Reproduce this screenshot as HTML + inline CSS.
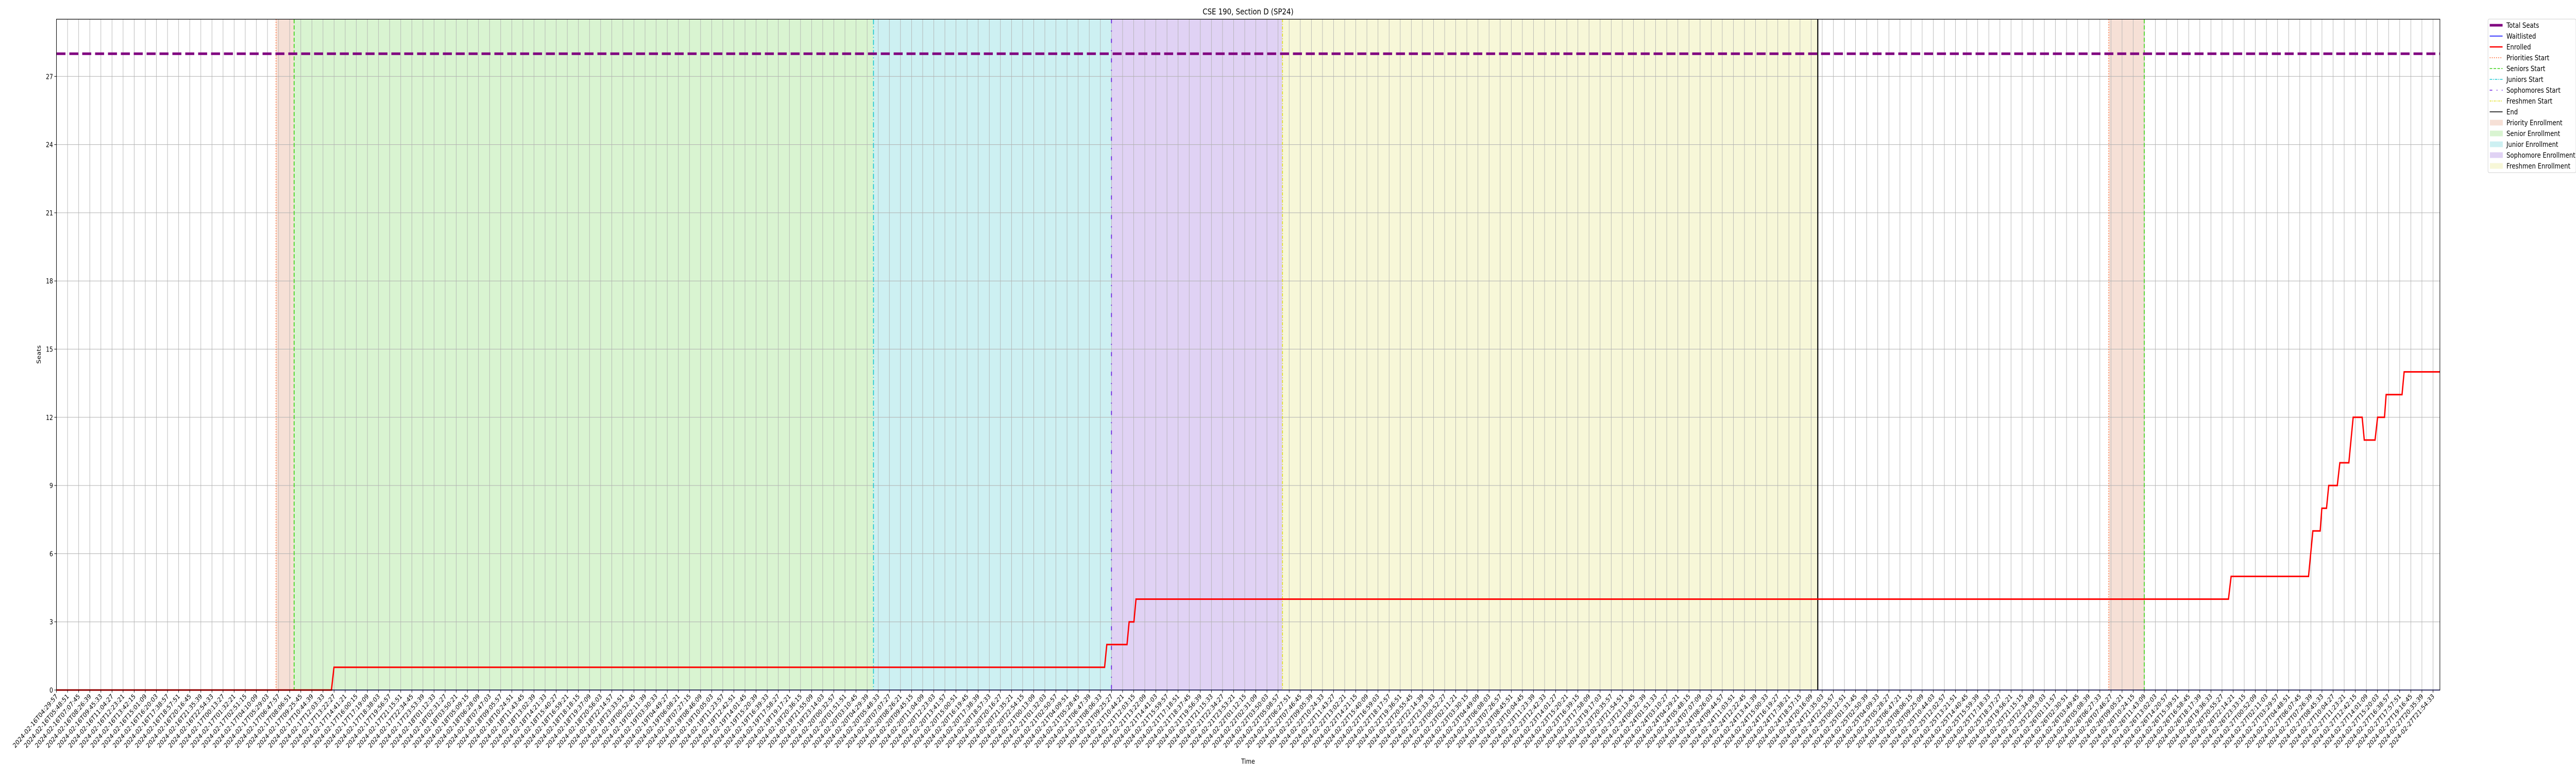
<!DOCTYPE html>
<html><head><meta charset="utf-8">
<style>
html,body{margin:0;padding:0;background:#fff;width:100vw;height:100vh;overflow:hidden;}
svg{display:block;width:100vw;height:100vh;font-family:"DejaVu Sans","Liberation Sans",sans-serif;}
</style></head>
<body>
<svg id="chart" viewBox="0 0 6000 1500" preserveAspectRatio="none" xmlns="http://www.w3.org/2000/svg">
  <text x="2907" y="28" font-size="16" text-anchor="middle">CSE 190, Section D (SP24)</text>
  <text x="2907" y="1482" font-size="13" text-anchor="middle">Time</text>
  <text x="0" y="0" font-size="13" text-anchor="middle" transform="translate(95,688) rotate(-90)">Seats</text>
  <g id="shades"></g>
  <g id="grid"></g>
  <g id="vlines"></g>
  <g id="series"></g>
  <g id="axes"></g>
  <g id="legend"></g>
</svg>
<script>
// ---- data ----
const tickCount = 215;
const tickStart = "2024-02-16T04:29:57";
const tickStepMinutes = 78.9;
const yTicks = [0,3,6,9,12,15,18,21,24,27];
const totalSeats = 28;
const waitlistX = [0, 214.62];
const waitlistY = [0, 0];
const enrolledX = [0,24.76,24.99,94.38,94.58,96.40,96.59,97.02,97.21,195.58,195.82,202.79,203.18,203.84,203.99,204.41,204.61,205.38,205.61,206.42,206.81,207.62,207.81,208.78,209.01,209.63,209.78,211.21,211.40,214.62];
const enrolledY = [0,0,1,1,2,2,3,3,4,4,5,5,7,7,8,8,9,9,10,10,12,12,11,11,12,12,13,13,14,14];
const phaseNames = ["priority","senior","junior","sophomore","freshmen","priority-2"];
const phaseStart = [19.77, 21.40, 73.57, 95.00, 110.40, 184.8];
const phaseEnd   = [21.40, 73.57, 95.00, 110.40, 158.6, 188.0];
const endIndex = 158.6;

// ---- layout ----
const L=131.5, R=5683, T=37.3, B=1339;
const xMin=0, xMax=214.62, yMin=0, yMax=(B-T)/44.1;
const NS="http://www.w3.org/2000/svg";
function X(i){return L+(i-xMin)/(xMax-xMin)*(R-L);}
function Y(v){return B-(v-yMin)/(yMax-yMin)*(B-T);}
function mk(tag,attrs,parent){const e=document.createElementNS(NS,tag);for(const k in attrs)e.setAttribute(k,attrs[k]);parent.appendChild(e);return e;}

const shades=document.getElementById('shades'),grid=document.getElementById('grid'),vl=document.getElementById('vlines'),ser=document.getElementById('series'),ax=document.getElementById('axes'),lg=document.getElementById('legend');

const shadeColors={"priority":"#f6e0d6","senior":"#d9f4d1","junior":"#cdf0f2","sophomore":"#e0d2f4","freshmen":"#f7f7d8","priority-2":"#f6e0d6"};
phaseNames.forEach((p,k)=>{
  const r=mk('rect',{x:X(phaseStart[k]),y:T,width:X(phaseEnd[k])-X(phaseStart[k]),height:B-T,fill:shadeColors[p]},shades);
  
  
});

// grid + ticks
const pad=n=>String(n).padStart(2,'0');
const base=new Date(tickStart+"Z").getTime();
for(let i=0;i<tickCount;i++){
  const x=X(i);
  const g=mk('line',{x1:x,x2:x,y1:T,y2:B,stroke:'#b0b0b0','stroke-width':1},grid);
  
  
  const tk=mk('line',{x1:x,x2:x,y1:B,y2:B+5,stroke:'#000','stroke-width':1},ax);
  
  
  const d=new Date(base+i*tickStepMinutes*60000);
  const lab=d.getUTCFullYear()+"-"+pad(d.getUTCMonth()+1)+"-"+pad(d.getUTCDate())+"T"+pad(d.getUTCHours())+":"+pad(d.getUTCMinutes())+":"+pad(d.getUTCSeconds());
  const t=mk('text',{x:0,y:0,'font-size':13,'text-anchor':'end',transform:`translate(${x+4},${B+13}) rotate(-45)`},ax);
  t.textContent=lab;
  
  
}
yTicks.forEach(v=>{
  const y=Y(v);
  const g=mk('line',{x1:L,x2:R,y1:y,y2:y,stroke:'#b0b0b0','stroke-width':1},grid);
  
  
  const tk=mk('line',{x1:L-5,x2:L,y1:y,y2:y,stroke:'#000','stroke-width':1},ax);
  
  
  const t=mk('text',{x:L-8,y:y+5,'font-size':13,'text-anchor':'end'},ax);
  t.textContent=v;
  
  
});

// phase start lines
const lineStyles={"priority":{c:'#ff5a1f',d:'2,3',w:1.5},"senior":{c:'#3fd21a',d:'8,4',w:2},"junior":{c:'#1ec8d2',d:'10,4,2,4',w:2},"sophomore":{c:'#6a1be0',d:'8,14,2,14',w:2},"freshmen":{c:'#e0e020',d:'6,3,2,3',w:2},"priority-2":{c:'#ff5a1f',d:'2,3',w:1.5}};
phaseNames.forEach((p,k)=>{
  const s=lineStyles[p];
  const x=X(phaseStart[k]);
  const ln=mk('line',{x1:x,x2:x,y1:T,y2:B,stroke:s.c,'stroke-width':s.w,'stroke-dasharray':s.d},vl);
  
  
});
{
  const x=X(phaseEnd[5]);
  const ln=mk('line',{x1:x,x2:x,y1:T,y2:B,stroke:'#3fd21a','stroke-width':2,'stroke-dasharray':'8,4'},vl);
  
  
}
{
  const x=X(endIndex);
  const ln=mk('line',{x1:x,x2:x,y1:T,y2:B,stroke:'#000','stroke-width':2.5},vl);
  
  
}

// series
const ts=mk('line',{x1:L,x2:R,y1:Y(totalSeats),y2:Y(totalSeats),stroke:'#800080','stroke-width':5,'stroke-dasharray':'21,9'},ser);


const wl=mk('polyline',{points:waitlistX.map((x,i)=>X(x)+','+Y(waitlistY[i])).join(' '),fill:'none',stroke:'#0000ff','stroke-width':1.5},ser);


const en=mk('polyline',{points:enrolledX.map((x,i)=>X(x)+','+Y(enrolledY[i])).join(' '),fill:'none',stroke:'#ff0000','stroke-width':3,'stroke-linejoin':'miter'},ser);



// frame
const fr=mk('rect',{x:L,y:T,width:R-L,height:B-T,fill:'none',stroke:'#000','stroke-width':1.2},ax);



// legend
const lx=5795, ly=37;
const box=mk('rect',{x:lx,y:ly,width:205,height:298,rx:3,fill:'#fff',stroke:'#d0d0d0','stroke-width':1},lg);


const entries=[
 ['Total Seats','line','#800080',5,''],
 ['Waitlisted','line','#0000ff',1.5,''],
 ['Enrolled','line','#ff0000',2.5,''],
 ['Priorities Start','line','#ff5a1f',1.5,'2,3'],
 ['Seniors Start','line','#3fd21a',1.5,'6,3'],
 ['Juniors Start','line','#1ec8d2',1.5,'6,2,2,2'],
 ['Sophomores Start','line','#6a1be0',1.5,'6,10,2,10'],
 ['Freshmen Start','line','#e0e020',1.5,'4,2,2,2'],
 ['End','line','#000',1.5,''],
 ['Priority Enrollment','patch','#f6e0d6'],
 ['Senior Enrollment','patch','#d9f4d1'],
 ['Junior Enrollment','patch','#cdf0f2'],
 ['Sophomore Enrollment','patch','#e0d2f4'],
 ['Freshmen Enrollment','patch','#f7f7d8']];
entries.forEach((e,k)=>{
  const y=49+k*21;
  if(e[1]==='line'){
    const h=mk('line',{x1:lx+4,x2:lx+34,y1:y,y2:y,stroke:e[2],'stroke-width':e[3],'stroke-dasharray':e[4]},lg);
    
    
  } else {
    const h=mk('rect',{x:lx+5,y:y-5,width:29,height:10,fill:e[2],stroke:e[2]},lg);
    
    
  }
  const t=mk('text',{x:lx+43,y:y+5,'font-size':14},lg);
  t.textContent=e[0];
  
  
});
</script>
</body></html>
